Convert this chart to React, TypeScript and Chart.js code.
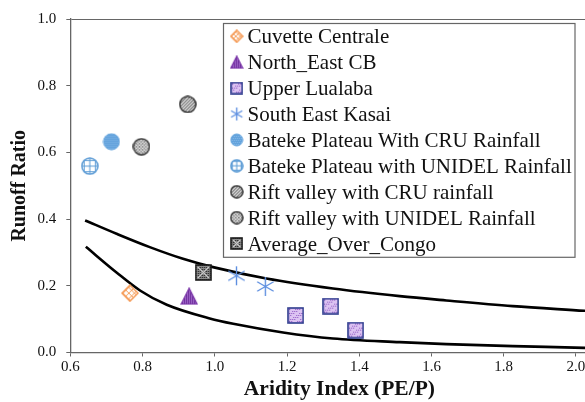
import React, { useEffect, useRef } from 'react';
import { Chart, registerables } from 'chart.js';

Chart.register(...registerables);

// ---------- data ----------
const seriesNames = [
  'Cuvette Centrale',
  'North_East CB',
  'Upper Lualaba',
  'South East Kasai',
  'Bateke Plateau With CRU Rainfall',
  'Bateke Plateau with UNIDEL Rainfall',
  'Rift valley with CRU rainfall',
  'Rift valley with UNIDEL Rainfall',
  'Average_Over_Congo',
];

const cuvetteX = [0.765];
const cuvetteY = [0.178];
const northEastX = [0.929];
const northEastY = [0.169];
const upperLualabaX = [1.224, 1.321, 1.39];
const upperLualabaY = [0.111, 0.139, 0.067];
const southEastKasaiX = [1.06, 1.14];
const southEastKasaiY = [0.23, 0.198];
const batekeCruX = [0.714];
const batekeCruY = [0.632];
const batekeUnidelX = [0.654];
const batekeUnidelY = [0.559];
const riftCruX = [0.925];
const riftCruY = [0.744];
const riftUnidelX = [0.797];
const riftUnidelY = [0.617];
const averageX = [0.968];
const averageY = [0.24];

const upperCurveX = [0.641, 0.728, 0.82, 0.912, 0.995, 1.143, 1.327, 1.512, 1.641, 1.825, 2.023, 2.05];
const upperCurveY = [0.396, 0.356, 0.316, 0.281, 0.256, 0.222, 0.192, 0.169, 0.156, 0.139, 0.125, 0.123];
const lowerCurveX = [0.643, 0.728, 0.793, 0.867, 0.986, 1.051, 1.189, 1.327, 1.512, 1.641, 1.825, 2.023, 2.05];
const lowerCurveY = [0.317, 0.24, 0.186, 0.143, 0.102, 0.086, 0.06, 0.042, 0.031, 0.025, 0.019, 0.014, 0.013];

const xTickStep = 0.2;
const yTickStep = 0.2;

// ---------- marker drawing ----------
type DrawFn = (c: CanvasRenderingContext2D, s: number) => void;

function mk(s: number, draw: DrawFn): HTMLCanvasElement {
  const cv = document.createElement('canvas');
  cv.width = s;
  cv.height = s;
  const c = cv.getContext('2d') as CanvasRenderingContext2D;
  draw(c, s);
  return cv;
}

const ORANGE = '#F59A55';
const PURPLE = '#7A35A8';
const NAVY = '#2E3B8E';
const KASAI = '#5E8FE0';
const BLUE = '#5B9BD5';
const DARK = '#333333';

const drawDiamond: DrawFn = (c, s) => {
  const m = s / 2;
  const r = m - 1;
  const path = () => {
    c.beginPath();
    c.moveTo(m, m - r);
    c.lineTo(m + r, m);
    c.lineTo(m, m + r);
    c.lineTo(m - r, m);
    c.closePath();
  };
  path();
  c.fillStyle = '#fff';
  c.fill();
  c.save();
  c.clip();
  c.strokeStyle = ORANGE;
  c.lineWidth = 1;
  for (let k = -s; k <= 2 * s; k += s / 3.2) {
    c.beginPath();
    c.moveTo(k, 0);
    c.lineTo(k + s, s);
    c.stroke();
    c.beginPath();
    c.moveTo(k, s);
    c.lineTo(k + s, 0);
    c.stroke();
  }
  c.restore();
  path();
  c.strokeStyle = ORANGE;
  c.lineWidth = 1.5;
  c.stroke();
};

const drawTriangle: DrawFn = (c, s) => {
  const path = () => {
    c.beginPath();
    c.moveTo(s / 2, 1);
    c.lineTo(s - 1, s - 1);
    c.lineTo(1, s - 1);
    c.closePath();
  };
  path();
  c.fillStyle = '#A36BCC';
  c.fill();
  c.save();
  c.clip();
  c.strokeStyle = '#6B2A99';
  c.lineWidth = 1;
  for (let x = 0.5; x < s; x += 2) {
    c.beginPath();
    c.moveTo(x, 0);
    c.lineTo(x, s);
    c.stroke();
  }
  c.restore();
  path();
  c.strokeStyle = PURPLE;
  c.lineWidth = 1.2;
  c.stroke();
};

const drawDotSquare: DrawFn = (c, s) => {
  c.fillStyle = '#DCC3F2';
  c.fillRect(1, 1, s - 2, s - 2);
  c.fillStyle = '#8C55C2';
  let row = 0;
  for (let y = 2; y < s - 2; y += 2) {
    for (let x = 2 + (row % 2); x < s - 2; x += 2) {
      if ((x * 7 + y * 3) % 5 < 3) c.fillRect(x, y, 1, 1);
    }
    row++;
  }
  c.strokeStyle = NAVY;
  c.lineWidth = 1.6;
  c.strokeRect(1, 1, s - 2, s - 2);
};

const drawAsterisk: DrawFn = (c, s) => {
  const m = s / 2;
  const r = m - 1;
  c.strokeStyle = KASAI;
  c.lineWidth = 1.4;
  [90, 30, 150].forEach((deg) => {
    const a = (deg * Math.PI) / 180;
    c.beginPath();
    c.moveTo(m - r * Math.cos(a), m - r * Math.sin(a));
    c.lineTo(m + r * Math.cos(a), m + r * Math.sin(a));
    c.stroke();
  });
};

const circlePath = (c: CanvasRenderingContext2D, s: number) => {
  c.beginPath();
  c.arc(s / 2, s / 2, s / 2 - 1, 0, Math.PI * 2);
};

const drawFilledBlueCircle: DrawFn = (c, s) => {
  circlePath(c, s);
  c.fillStyle = '#62A2DC';
  c.fill();
  c.save();
  c.clip();
  c.fillStyle = '#86B9E8';
  for (let y = 1; y < s; y += 2) {
    for (let x = 1 + ((y - 1) / 2) % 2; x < s; x += 2) c.fillRect(x, y, 1, 1);
  }
  c.restore();
  circlePath(c, s);
  c.strokeStyle = '#6AA7DE';
  c.lineWidth = 1;
  c.stroke();
};

const drawGridBlueCircle: DrawFn = (c, s) => {
  circlePath(c, s);
  c.fillStyle = '#fff';
  c.fill();
  c.save();
  c.clip();
  c.strokeStyle = BLUE;
  c.lineWidth = 1;
  const step = s / 3.2;
  for (let k = s / 2 - step * 2; k <= s; k += step) {
    c.beginPath();
    c.moveTo(k, 0);
    c.lineTo(k, s);
    c.stroke();
    c.beginPath();
    c.moveTo(0, k);
    c.lineTo(s, k);
    c.stroke();
  }
  c.restore();
  circlePath(c, s);
  c.strokeStyle = BLUE;
  c.lineWidth = 1.5;
  c.stroke();
};

const drawHatchCircle: DrawFn = (c, s) => {
  circlePath(c, s);
  c.fillStyle = '#fff';
  c.fill();
  c.save();
  c.clip();
  c.strokeStyle = '#666';
  c.lineWidth = 1.2;
  for (let k = -s; k <= 2 * s; k += 3.2) {
    c.beginPath();
    c.moveTo(k, s);
    c.lineTo(k + s, 0);
    c.stroke();
  }
  c.restore();
  circlePath(c, s);
  c.strokeStyle = DARK;
  c.lineWidth = 1.5;
  c.stroke();
};

const drawCheckCircle: DrawFn = (c, s) => {
  circlePath(c, s);
  c.fillStyle = '#f2f2f2';
  c.fill();
  c.save();
  c.clip();
  c.strokeStyle = '#777';
  c.lineWidth = 0.9;
  for (let k = -s; k <= 2 * s; k += 3.2) {
    c.beginPath();
    c.moveTo(k, s);
    c.lineTo(k + s, 0);
    c.stroke();
    c.beginPath();
    c.moveTo(k, 0);
    c.lineTo(k + s, s);
    c.stroke();
  }
  c.restore();
  circlePath(c, s);
  c.strokeStyle = DARK;
  c.lineWidth = 1.5;
  c.stroke();
};

const drawAverageSquare: DrawFn = (c, s) => {
  c.fillStyle = '#8a8a8a';
  c.fillRect(1, 1, s - 2, s - 2);
  c.fillStyle = '#1a1a1a';
  for (let y = 1; y < s - 1; y += 2) {
    for (let x = 1; x < s - 1; x += 2) c.fillRect(x, y, 1, 1);
  }
  c.strokeStyle = '#dddddd';
  c.lineWidth = 1;
  c.beginPath();
  c.moveTo(3, 3);
  c.lineTo(s - 3, s - 3);
  c.moveTo(s - 3, 3);
  c.lineTo(3, s - 3);
  c.stroke();
  c.strokeStyle = '#1a1a1a';
  c.lineWidth = 1.6;
  c.strokeRect(1, 1, s - 2, s - 2);
};

const markerDrawers: DrawFn[] = [
  drawDiamond,
  drawTriangle,
  drawDotSquare,
  drawAsterisk,
  drawFilledBlueCircle,
  drawGridBlueCircle,
  drawHatchCircle,
  drawCheckCircle,
  drawAverageSquare,
];
const plotSizes = [18, 18, 17, 21, 18, 18, 18, 18, 17];
const legendSizes = [14, 14, 13, 15, 14, 14, 14, 14, 13];

const FONT = "'Liberation Serif', 'Times New Roman', serif";

const zip = (xs: number[], ys: number[]) => xs.map((x, i) => ({ x, y: ys[i] }));

export default function App() {
  const ref = useRef<HTMLCanvasElement | null>(null);

  useEffect(() => {
    if (!ref.current) return;
    const plotIcons = markerDrawers.map((d, i) => mk(plotSizes[i], d));
    const legendIcons = markerDrawers.map((d, i) => mk(legendSizes[i], d));

    const seriesData = [
      zip(cuvetteX, cuvetteY),
      zip(northEastX, northEastY),
      zip(upperLualabaX, upperLualabaY),
      zip(southEastKasaiX, southEastKasaiY),
      zip(batekeCruX, batekeCruY),
      zip(batekeUnidelX, batekeUnidelY),
      zip(riftCruX, riftCruY),
      zip(riftUnidelX, riftUnidelY),
      zip(averageX, averageY),
    ];

    const markerSets = seriesNames.map((name, i) => ({
      label: name,
      data: seriesData[i],
      pointStyle: plotIcons[i] as any,
      pointRadius: plotSizes[i] / 2,
      showLine: false,
    }));

    const curveSets = [
      { label: 'upper', data: zip(upperCurveX, upperCurveY) },
      { label: 'lower', data: zip(lowerCurveX, lowerCurveY) },
    ].map((d) => ({
      ...d,
      showLine: true,
      borderColor: '#000',
      borderWidth: 2.6,
      pointRadius: 0,
      cubicInterpolationMode: 'monotone' as const,
      fill: false,
    }));

    const boxLegend = {
      id: 'boxLegend',
      afterDatasetsDraw(chart: any) {
        const c: CanvasRenderingContext2D = chart.ctx;
        c.save();
        c.fillStyle = '#fff';
        c.fillRect(223.5, 23.5, 351.5, 233.8);
        c.strokeStyle = '#666';
        c.lineWidth = 1.2;
        c.strokeRect(223.5, 23.5, 351.5, 233.8);
        c.font = `21px ${FONT}`;
        c.fillStyle = '#111';
        c.textBaseline = 'alphabetic';
        c.textAlign = 'left';
        seriesNames.forEach((name, i) => {
          const y = 36.3 + i * 25.9;
          const ic = legendIcons[i];
          c.drawImage(ic, 236.7 - ic.width / 2, y - ic.height / 2);
          c.fillText(name, 247.5, y + 7);
        });
        c.restore();
      },
    };

    const chart = new Chart(ref.current, {
      type: 'scatter',
      data: { datasets: [...markerSets, ...curveSets] as any },
      options: {
        responsive: false,
        animation: false,
        layout: { padding: { top: 16, right: 10, left: 0, bottom: 0 } },
        plugins: { legend: { display: false }, tooltip: { enabled: false } },
        scales: {
          x: {
            type: 'linear',
            min: 0.6,
            max: 2.09,
            ticks: {
              stepSize: xTickStep,
              includeBounds: false,
              callback: (v: any) => Number(v).toFixed(1),
              font: { family: FONT, size: 15 },
              color: '#111',
              padding: 2,
            },
            grid: { drawOnChartArea: false, tickLength: 4, color: '#666' },
            border: { color: '#666', width: 1.3 },
            title: {
              display: true,
              text: 'Aridity Index (PE/P)',
              font: { family: FONT, size: 21.5, weight: 'bold' },
              color: '#111',
              padding: { top: 0, bottom: 0 },
            },
            afterFit: (s: any) => {
              s.height = 49.5;
            },
          },
          y: {
            type: 'linear',
            min: 0,
            max: 1,
            ticks: {
              stepSize: yTickStep,
              callback: (v: any) => Number(v).toFixed(1),
              font: { family: FONT, size: 15 },
              color: '#111',
              padding: 10,
            },
            grid: {
              color: (ctx: any) =>
                ctx.tick && Math.abs(ctx.tick.value - 1) < 1e-6 ? '#666' : 'rgba(0,0,0,0)',
              tickColor: '#666',
              tickLength: 4,
            },
            border: { color: '#666', width: 1.3 },
            title: {
              display: true,
              text: 'Runoff Ratio',
              font: { family: FONT, size: 20, weight: 'bold' },
              color: '#111',
              padding: { top: 8, bottom: 0 },
            },
            afterFit: (s: any) => {
              s.width = 70.3;
            },
          },
        },
      } as any,
      plugins: [boxLegend],
    });
    return () => chart.destroy();
  }, []);

  return (
    <div
      style={{
        position: 'fixed',
        left: 0,
        top: 0,
        width: 585,
        height: 402,
        overflow: 'hidden',
        background: '#fff',
      }}
    >
      <canvas ref={ref} width={620} height={402} style={{ display: 'block', width: 620, height: 402 }} />
    </div>
  );
}
